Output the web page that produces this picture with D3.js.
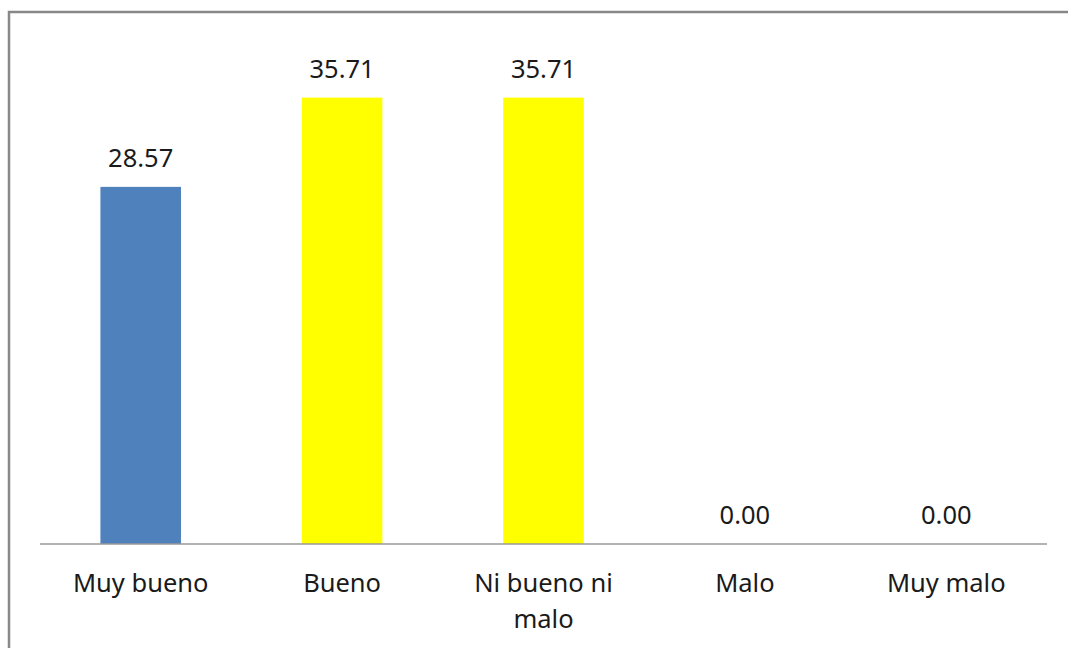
<!DOCTYPE html>
<html>
<head>
<meta charset="utf-8">
<script src="https://cdn.jsdelivr.net/npm/d3@7"></script>
<style>
  html, body { margin: 0; padding: 0; background: #fff; }
  svg { display: block; }
</style>
</head>
<body>
<svg id="chart" width="1068" height="648"></svg>
<script>
// Survey results (percent)
const categories = ["Muy bueno", "Bueno", "Ni bueno ni malo", "Malo", "Muy malo"];
const values = [28.57, 35.71, 35.71, 0.00, 0.00];
const barColors = ["#4F81BD", "#FFFF00", "#FFFF00", "#FFFF00", "#FFFF00"];
const yMax = 40;

const svg = d3.select("#chart");
const W = 1068, H = 648;
const margin = { left: 40, right: 21, top: 44, baseline: 544 };

// Outer frame of the chart area
svg.append("rect")
  .attr("x", 9).attr("y", 12)
  .attr("width", W + 20).attr("height", H + 20)
  .attr("fill", "#fff")
  .attr("stroke", "#888")
  .attr("stroke-width", 2.5);

const x = d3.scaleBand()
  .domain(categories)
  .range([margin.left, W - margin.right])
  .paddingInner(0.6)
  .paddingOuter(0.3);

const y = d3.scaleLinear()
  .domain([0, yMax])
  .range([margin.baseline, margin.top]);

const font = "'Noto Sans', 'Open Sans', sans-serif";
const fontSize = 25.5;

// Bars
svg.append("g").selectAll("rect")
  .data(values)
  .join("rect")
  .attr("x", (d, i) => x(categories[i]))
  .attr("y", d => y(d))
  .attr("width", x.bandwidth())
  .attr("height", d => y(0) - y(d))
  .attr("fill", (d, i) => barColors[i]);

// Category axis along the baseline
const axis = svg.append("g")
  .attr("transform", `translate(0,${y(0)})`)
  .call(d3.axisBottom(x).tickSize(0).tickSizeOuter(0).tickFormat(""));
axis.select(".domain")
  .attr("stroke", "#999")
  .attr("stroke-width", 1.5)
  .attr("d", `M${margin.left},0H${W - margin.right}`);

// Category labels, wrapped to the band width
const wrapped = {
  "Ni bueno ni malo": ["Ni bueno ni", "malo"]
};
const catLabels = svg.append("g");
categories.forEach(c => {
  const lines = wrapped[c] || [c];
  const t = catLabels.append("text")
    .attr("x", x(c) + x.bandwidth() / 2)
    .attr("y", 592)
    .attr("text-anchor", "middle")
    .attr("font-family", font)
    .attr("font-size", fontSize)
    .attr("fill", "#1a1a1a");
  lines.forEach((ln, i) => {
    t.append("tspan")
      .attr("x", x(c) + x.bandwidth() / 2)
      .attr("dy", i === 0 ? 0 : 36)
      .text(ln);
  });
});

// Value labels above bars
svg.append("g").selectAll("text")
  .data(values)
  .join("text")
  .attr("x", (d, i) => x(categories[i]) + x.bandwidth() / 2)
  .attr("y", d => y(d) - 20)
  .attr("text-anchor", "middle")
  .attr("font-family", font)
  .attr("font-size", fontSize)
  .attr("fill", "#1a1a1a")
  .text(d => d.toFixed(2));
</script>
</body>
</html>
